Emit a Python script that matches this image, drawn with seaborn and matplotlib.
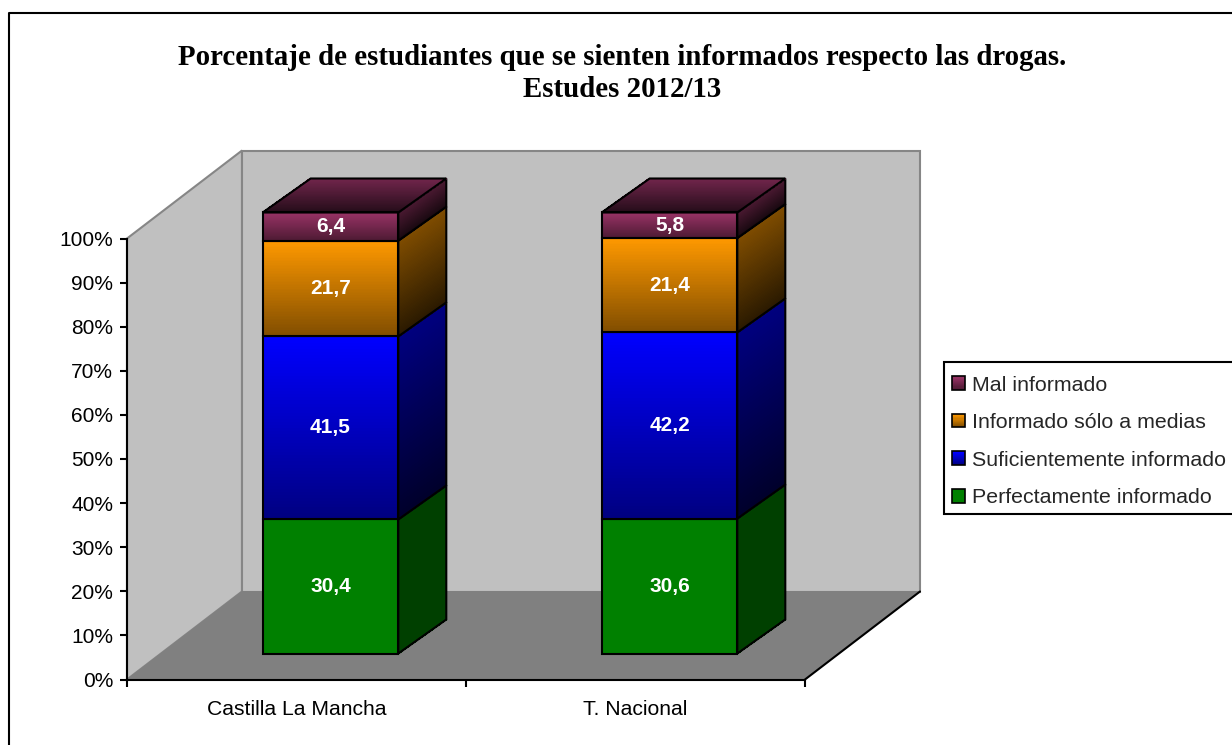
import numpy as np
import pandas as pd
import matplotlib
matplotlib.use("Agg")
import matplotlib.pyplot as plt
import seaborn as sns
from matplotlib.collections import PolyCollection
from matplotlib.legend_handler import HandlerBase
from matplotlib.lines import Line2D
from matplotlib.patches import Polygon, Rectangle
from matplotlib.transforms import Affine2D, IdentityTransform

# values, bottom segment first
regions = ["Castilla La Mancha", "T. Nacional"]
levels = ["Perfectamente informado", "Suficientemente informado",
          "Informado sólo a medias", "Mal informado"]
perfecto = [30.4, 30.6]
suficiente = [41.5, 42.2]
a_medias = [21.7, 21.4]
mal = [6.4, 5.8]
title = "Porcentaje de estudiantes que se sienten informados respecto las drogas.\nEstudes 2012/13"

# (front top, front bottom, side top, side bottom)
shades = {
    "Perfectamente informado": ("#008000", "#008000", "#004000", "#004000"),
    "Suficientemente informado": ("#0000FF", "#000080", "#000080", "#00002B"),
    "Informado sólo a medias": ("#FF9900", "#804D00", "#804D00", "#2B1A00"),
    "Mal informado": ("#993366", "#4D1A33", "#4D1A33", "#1A0911"),
}
top_shade = ("#73264D", "#260D1A")

W, H = 1232, 745
WALL = np.array([115, 88])  # depth of the box, pixels
FRONT = np.array([34, 26])  # bar front face offset
BACK = np.array([82, 60])   # bar back face offset
LW = 1.5

sns.set_style("ticks")
plt.rcParams["font.family"] = ["Liberation Sans", "DejaVu Sans"]

fig = plt.figure(figsize=(W / 100, H / 100), dpi=100, facecolor="white")
ax = fig.add_axes([127 / W, 1 - 679.5 / H, 678 / W, 441 / H])
ax.patch.set_visible(False)


def mix(c1, c2, t):
    a, b = np.array(matplotlib.colors.to_rgb(c1)), np.array(matplotlib.colors.to_rgb(c2))
    return a + (b - a) * t


def shaded_face(tl, tr, br, bl, c_top, c_bot, z, n=60):
    # thin horizontal strips make the gradient, the corners may be sheared
    tl, tr, br, bl = [np.array(p, dtype=float) for p in (tl, tr, br, bl)]
    ts = np.linspace(0, 1, n + 1)
    polys, cols = [], []
    for a, b in zip(ts[:-1], ts[1:]):
        polys.append([tl + (bl - tl) * a, tr + (br - tr) * a, tr + (br - tr) * b, tl + (bl - tl) * b])
        cols.append(mix(c_top, c_bot, (a + b) / 2))
    pc = PolyCollection(polys, facecolors=cols, edgecolors=cols, linewidths=0.5, antialiaseds=False,
                        transform=IdentityTransform(), zorder=z, clip_on=False)
    ax.add_collection(pc, autolim=False)


def outline(pts, z, color="black", face="none", lw=LW):
    ax.add_patch(Polygon(pts, closed=True, fill=face != "none", facecolor=face, edgecolor=color,
                         linewidth=lw, transform=IdentityTransform(), zorder=z,
                         clip_on=False, joinstyle="miter"))


bottom = np.zeros(2)
bars = {}
for level, vals in zip(levels, [perfecto, suficiente, a_medias, mal]):
    df = pd.DataFrame({"region": regions, "pct": vals})
    before = len(ax.patches)
    sns.barplot(data=df, x="region", y="pct", bottom=bottom, width=0.4, color="white",
                errorbar=None, ax=ax)
    bars[level] = list(ax.patches[before:])
    bottom = bottom + np.array(vals)

ax.set_xlim(-0.5, 1.5)
ax.set_ylim(0, 100)
ax.set_xlabel("")
ax.set_ylabel("")


def pt(x, y, off=(0, 0)):
    return ax.transData.transform((x, y)) + np.array(off)


# walls and floor of the box
grey = "#C0C0C0"
edge = "#868686"
outline([pt(-0.5, 0), pt(-0.5, 100), pt(-0.5, 100, WALL), pt(-0.5, 0, WALL)], 1, edge, grey)
outline([pt(-0.5, 0, WALL), pt(-0.5, 100, WALL), pt(1.5, 100, WALL), pt(1.5, 0, WALL)], 1, edge, grey)
outline([pt(-0.5, 0), pt(1.5, 0), pt(1.5, 0, WALL), pt(-0.5, 0, WALL)], 2, "#808080", "#808080", 0.5)
ax.plot(*zip(pt(1.5, 0), pt(1.5, 0, WALL)), color="black", lw=LW, transform=IdentityTransform(),
        clip_on=False, zorder=3)

# bar faces
shift = Affine2D().translate(*FRONT)
z = 10
for level, vals in zip(levels, [perfecto, suficiente, a_medias, mal]):
    f_top, f_bot, s_top, s_bot = shades[level]
    for bar, val in zip(bars[level], vals):
        x0, x1 = bar.get_x(), bar.get_x() + bar.get_width()
        y0, y1 = bar.get_y(), bar.get_y() + bar.get_height()
        side = [pt(x1, y1, FRONT), pt(x1, y1, BACK), pt(x1, y0, BACK), pt(x1, y0, FRONT)]
        shaded_face(side[0], side[1], side[2], side[3], s_top, s_bot, z)
        outline(side, z + 1)
        shaded_face(pt(x0, y1, FRONT), pt(x1, y1, FRONT), pt(x1, y0, FRONT), pt(x0, y0, FRONT),
                    f_top, f_bot, z + 2)
        bar.set_facecolor("none")
        bar.set_edgecolor("black")
        bar.set_linewidth(LW)
        bar.set_transform(ax.transData + shift)
        bar.set_clip_on(False)
        bar.set_zorder(z + 3)
        if level == levels[-1]:
            roof = [pt(x0, y1, BACK), pt(x1, y1, BACK), pt(x1, y1, FRONT), pt(x0, y1, FRONT)]
            shaded_face(roof[0], roof[1], roof[2], roof[3], top_shade[0], top_shade[1], z + 2)
            outline(roof, z + 3)
        ax.text((x0 + x1) / 2, (y0 + y1) / 2, f"{val:.1f}".replace(".", ","), color="white",
                fontweight="bold", fontsize=15, ha="center", va="center", zorder=z + 4,
                transform=ax.transData + shift)
    z += 5

# axes
ax.set_yticks(np.arange(0, 101, 10))
ax.set_yticklabels([f"{v}%" for v in range(0, 101, 10)])
ax.set_xticks([0, 1])
ax.set_xticklabels(regions)
ax.set_xticks([-0.5, 0.5, 1.5], minor=True)
ax.tick_params(axis="x", which="major", length=0, labelsize=15.2, pad=14.5, colors="black")
ax.tick_params(axis="x", which="minor", length=5, width=LW, color="black")
ax.tick_params(axis="y", length=5, width=LW, labelsize=15, pad=5, color="black", labelcolor="black")
for s in ["top", "right"]:
    ax.spines[s].set_visible(False)
for s in ["left", "bottom"]:
    ax.spines[s].set_color("black")
    ax.spines[s].set_linewidth(LW)
    ax.spines[s].set_zorder(4)


class GradientSwatch(HandlerBase):
    def create_artists(self, legend, orig_handle, xdescent, ydescent, width, height, fontsize, trans):
        f_top, f_bot = shades[orig_handle.get_label()][:2]
        out = []
        for i in range(12):
            out.append(Rectangle((-xdescent, -ydescent + height * (1 - (i + 1) / 12)), width, height / 12,
                                 facecolor=mix(f_top, f_bot, i / 11), edgecolor="none", transform=trans))
        out.append(Rectangle((-xdescent, -ydescent), width, height, facecolor="none", edgecolor="black",
                             linewidth=1.2, transform=trans))
        return out


handles = []
for level in levels[::-1]:
    bars[level][0].set_label(level)
    handles.append(bars[level][0])
leg = ax.legend(handles=handles, labels=levels[::-1], handler_map={Rectangle: GradientSwatch()},
                loc="upper left", bbox_to_anchor=(952, H - 375.6), bbox_transform=IdentityTransform(),
                borderaxespad=0, frameon=False, fontsize=15.4,
                handlelength=0.6, handleheight=0.6, handletextpad=0.33, labelspacing=0.87,
                borderpad=0)
leg.set_zorder(50)
# legend box runs past the right edge of the picture
ax.add_patch(Rectangle((943.5, H - 514), 320, 152, facecolor="white", edgecolor="black", linewidth=LW,
                       transform=IdentityTransform(), clip_on=False, zorder=49))

# chart area border, only left and top show in the picture
fig.add_artist(Line2D([8.5, 8.5, W], [0, H - 12.5, H - 12.5], color="black", lw=LW,
                      transform=IdentityTransform()))

fig.text(622.5 / W, 1 - 73.5 / H, title, ha="center", va="center", fontsize=20.8, fontweight="bold",
         family=["Liberation Serif", "DejaVu Serif"], color="black", linespacing=1.24)

fig.savefig("out.png", dpi=100, facecolor="white")
